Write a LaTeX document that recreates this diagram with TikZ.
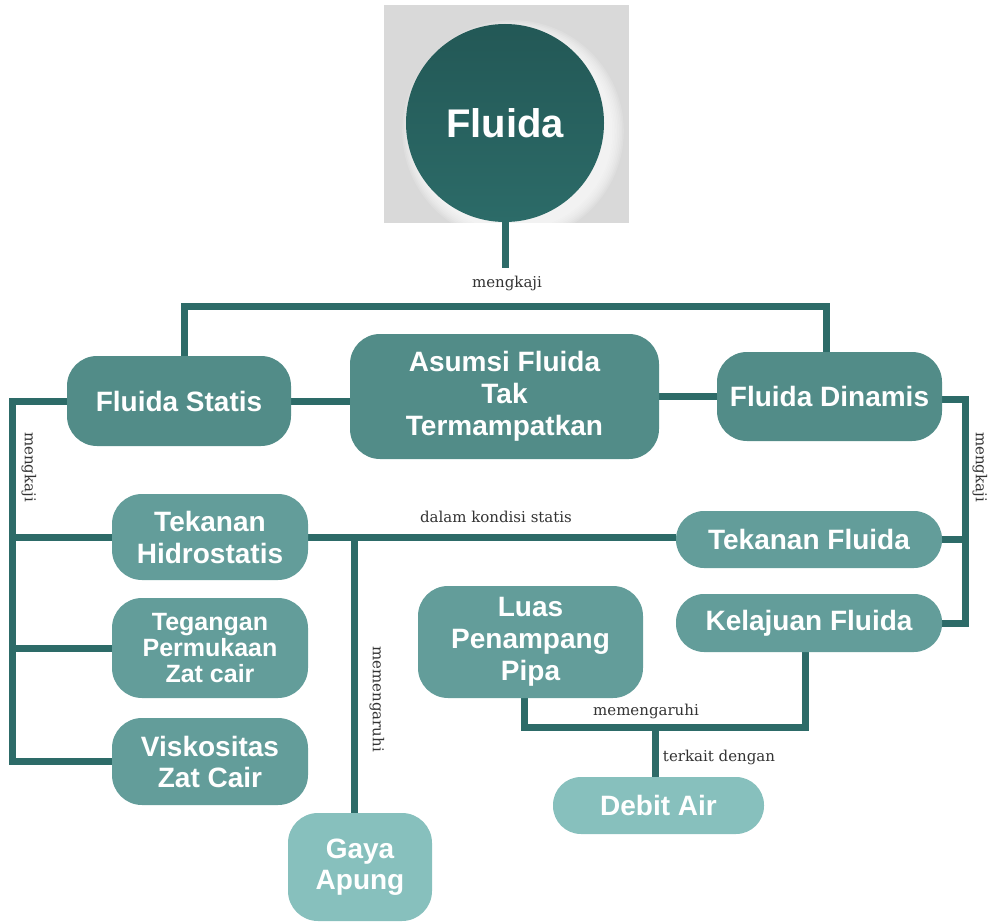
\documentclass[tikz,border=0pt]{standalone}
\usepackage{fontspec}
\setmainfont{Liberation Sans}
\newfontfamily\lblfont{DejaVu Serif}
\usetikzlibrary{calc}
\definecolor{linec}{HTML}{2D6B68}
\definecolor{cA}{HTML}{528C88}
\definecolor{cB}{HTML}{639D9A}
\definecolor{cC}{HTML}{87C0BD}
\definecolor{circtop}{HTML}{235856}
\definecolor{circbot}{HTML}{2C6B68}
\definecolor{graybg}{HTML}{D9D9D9}
\definecolor{lblc}{HTML}{333333}
\pgfdeclarelayer{bg}
\pgfsetlayers{bg,main}
\tikzset{
  box/.style={rectangle, rounded corners=30pt, text=white, align=center, inner sep=0pt,
    font=\bfseries\fontsize{28}{32}\selectfont},
  lvA/.style={box, fill=cA},
  lvB/.style={box, fill=cB},
  lvC/.style={box, fill=cC},
  conn/.style={draw=linec, line width=7pt, line join=miter},
  lbl/.style={font=\lblfont\fontsize{15}{18}\selectfont, text=lblc, inner sep=0pt}
}
\begin{document}
\begin{tikzpicture}[x=1pt,y=-1pt]
\useasboundingbox (0,0) rectangle (990,923);

% main concept
\node[circle, minimum size=198pt, inner sep=0pt, top color=circtop, bottom color=circbot,
  text=white, font=\bfseries\fontsize{40}{46}\selectfont] (fluida) at (505,123) {Fluida};

% level 1
\node[lvA, minimum width=224pt, minimum height=90pt] (statis) at (179,401) {Fluida Statis};
\node[lvA, minimum width=309pt, minimum height=125pt] (asumsi) at (504.5,396.5) {Asumsi Fluida\\Tak\\Termampatkan};
\node[lvA, minimum width=225pt, minimum height=89pt] (dinamis) at (829.5,396.5) {Fluida Dinamis};

% level 2 left
\node[lvB, minimum width=196pt, minimum height=86pt] (hidro) at (210,537) {Tekanan\\Hidrostatis};
\node[lvB, minimum width=196pt, minimum height=100pt, font=\bfseries\fontsize{25}{26}\selectfont] (tegangan) at (210,648) {Tegangan\\Permukaan\\Zat cair};
\node[lvB, minimum width=196pt, minimum height=87pt, font=\bfseries\fontsize{28}{31}\selectfont] (visko) at (210,761.5) {Viskositas\\Zat Cair};

% level 2 right
\node[lvB, minimum width=266pt, minimum height=57pt, rounded corners=28pt] (tekfluida) at (809,539.5) {Tekanan Fluida};
\node[lvB, minimum width=266pt, minimum height=58pt, rounded corners=28pt] (kelajuan) at (809,623) {Kelajuan Fluida};
\node[lvB, minimum width=225pt, minimum height=112pt] (luas) at (530.5,642) {Luas\\Penampang\\Pipa};

% level 3
\node[lvC, minimum width=144pt, minimum height=108pt, font=\bfseries\fontsize{28}{31}\selectfont] (gaya) at (360,867) {Gaya\\Apung};
\node[lvC, minimum width=211pt, minimum height=57pt, rounded corners=28pt] (debit) at (658.5,805.5) {Debit Air};

% junction coordinates
\coordinate (stemend) at (505,268);
\coordinate (tl) at (184,306);
\coordinate (tr) at (826,306);
\coordinate (lb) at (12,401);
\coordinate (rb) at (965,399);
\coordinate (j1) at (354,537);
\coordinate (b1) at (524,727);
\coordinate (b2) at (805,727);
\coordinate (b3) at (655,727);

\begin{pgfonlayer}{bg}
  \fill[graybg] (384,5) rectangle (629,223);
  \begin{scope}
    \clip (384,5) rectangle (629,223);
    \foreach \k in {1,...,8} {
      \fill[white, opacity=0.14] (513,131) circle ({98+1.6*\k});
    }
  \end{scope}
  % connectors
  \draw[conn] (fluida.south) -- (stemend);
  \draw[conn] (tl |- statis.north) -- (tl) -- (tr) -- (tr |- dinamis.north);
  \draw[conn] (statis.east) -- (statis.east -| asumsi.west);
  \draw[conn] (asumsi.east) -- (asumsi.east -| dinamis.west);
  \draw[conn] (statis.west) -- (lb) -- (lb |- visko.west) -- (visko.west);
  \draw[conn] (hidro.west) -- (hidro.west -| lb);
  \draw[conn] (tegangan.west) -- (tegangan.west -| lb);
  \draw[conn] (dinamis.east |- rb) -- (rb) -- (rb |- kelajuan.east) -- (kelajuan.east);
  \draw[conn] (tekfluida.east) -- (tekfluida.east -| rb);
  \draw[conn] (hidro.east) -- (hidro.east -| tekfluida.west);
  \draw[conn] (j1) -- (j1 |- gaya.north);
  \draw[conn] (b1 |- luas.south) -- (b1) -- (b2) -- (b2 |- kelajuan.south);
  \draw[conn] (b3) -- (b3 |- debit.north);
\end{pgfonlayer}

% labels
\node[lbl] (l1) at (507,283) {mengkaji};
\node[lbl, rotate=-90] (l2) at (29,467) {mengkaji};
\node[lbl, rotate=-90] (l3) at (980,467) {mengkaji};
\node[lbl] (l4) at (496,517) {dalam kondisi statis};
\node[lbl, rotate=-90] (l5) at (377,699) {memengaruhi};
\node[lbl] (l6) at (646,711) {memengaruhi};
\node[lbl] (l7) at (719,757) {terkait dengan};
\end{tikzpicture}
\end{document}
